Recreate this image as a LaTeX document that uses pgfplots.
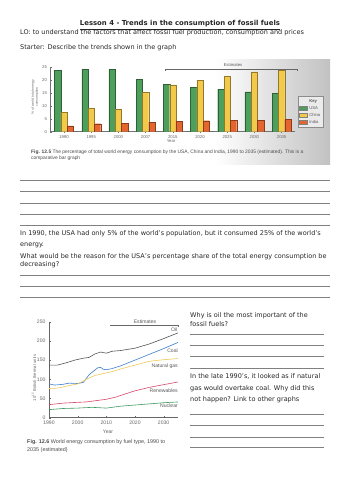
\documentclass[border=0pt]{standalone}
\usepackage{pgfplots}
\pgfplotsset{compat=1.18}
\usepackage{fontspec}
\setmainfont{DejaVu Sans}
\newfontfamily\chartfont{Liberation Sans}
\definecolor{usagreen}{HTML}{4E9E5C}
\definecolor{chinayellow}{HTML}{F3C94A}
\definecolor{indiaorange}{HTML}{E4652E}
\definecolor{oilc}{HTML}{555555}
\definecolor{coalc}{HTML}{3F7FD0}
\definecolor{gasc}{HTML}{EFC85A}
\definecolor{renc}{HTML}{D8486A}
\definecolor{nucc}{HTML}{3E9A62}
\newcommand{\bodyfont}{\fontsize{6.5}{7.5}\selectfont}
\newcommand{\cf}{\chartfont\fontsize{4.2}{4.8}\selectfont}
\newcommand{\lf}{\chartfont\fontsize{5.1}{5.8}\selectfont}
\begin{document}
\begin{tikzpicture}[x=1pt,y=1pt]
\path[use as bounding box, fill=white] (0pt,0pt) rectangle (353pt,500pt);
% header text
\node[anchor=center, inner sep=0, text=black!85] at (180pt,475pt) {\fontsize{6.9}{8}\selectfont\bfseries\underline{Lesson 4 - Trends in the consumption of fossil fuels}};
\node[anchor=west, inner sep=0, text=black!85] at (20pt,467pt) {\bodyfont LO: to understand the factors that affect fossil fuel production, consumption and prices};
\node[anchor=west, inner sep=0, text=black!85] at (20pt,452.7pt) {\bodyfont Starter: Describe the trends shown in the graph};
% photo background 1
\fill[white] (20pt,335pt) rectangle (330pt,440pt);
\shade[left color=white, right color=black!24] (215pt,335pt) rectangle (330pt,440pt);
% bar chart
\begin{axis}[
  at={(50.4pt,368.3pt)}, anchor=south west, scale only axis,
  width=244.8pt, height=64.4pt,
  xmin=-0.5, xmax=8.5, ymin=0, ymax=25,
  axis x line*=bottom, axis y line*=left,
  axis line style={black!55, line width=0.4pt},
  xtick={0,...,8}, xticklabels={1990,1995,2000,2007,2015,2020,2025,2030,2035},
  ytick={0,5,...,25},
  major tick length=1.5pt, tick style={black!55},
  tick label style={font=\cf, text=black!60, /pgf/number format/assume math mode=true},
  xticklabel style={yshift=1pt},
  ybar, bar width=6.3pt,
  legend style={at={(1.011,0.554)}, anchor=north west, font=\cf, text=black!65,
    draw=black!45, fill=black!8, inner sep=1pt, row sep=-1.5pt,
    legend cell align=left},
  legend image code/.code={\draw[#1, draw=black!50] (0cm,-0.06cm) rectangle (0.28cm,0.09cm);},
]
\addlegendimage{empty legend}
\addlegendentry{\textbf{Key}}
\addplot[fill=usagreen, draw=usagreen!60!black, line width=0.2pt, bar shift=-6.3pt] coordinates {(0,23.8) (1,24.3) (2,24.2) (3,20.3) (4,18.3) (5,17.3) (6,16.5) (7,15.5) (8,15.0)};
\addlegendentry{USA}
\addplot[fill=chinayellow, draw=chinayellow!60!black, line width=0.2pt, bar shift=0pt] coordinates {(0,7.5) (1,9.0) (2,8.6) (3,15.4) (4,18.2) (5,20.0) (6,21.6) (7,23.2) (8,24.0)};
\addlegendentry{China}
\addplot[fill=indiaorange, draw=indiaorange!60!black, line width=0.2pt, bar shift=6.3pt] coordinates {(0,2.3) (1,3.1) (2,3.3) (3,3.7) (4,4.0) (5,4.3) (6,4.5) (7,4.5) (8,4.7)};
\addlegendentry{India}
\end{axis}
\node[rotate=90, align=center, inner sep=0, text=black!60, font={\chartfont\fontsize{3.4}{4}\selectfont}] at (35pt,403pt) {\% of world total energy\\consumption};
\node[inner sep=0, text=black!60, font=\cf] at (171pt,358.5pt) {Year};
\draw[black!60, line width=0.4pt] (165pt,429pt) -- (165pt,431pt) -- (297pt,431pt) -- (297pt,429pt);
\node[inner sep=0, text=black!65, font=\cf] at (233pt,434.5pt) {Estimates};
\node[anchor=west, inner sep=0, text=black!70, align=left, font={\chartfont\fontsize{4.9}{6}\selectfont}] at (31pt,345pt) {\textbf{Fig. 12.5} The percentage of total world energy consumption by the USA, China and India, 1990 to 2035 (estimated). This is a\\comparative bar graph};
% answer lines 1
\foreach \yy in {180.7,191.7,203.3,214.3,225.7,275.7,286.7,297.7} {\draw[black!50, line width=0.5pt] (20pt,500pt-\yy pt) -- (330pt,500pt-\yy pt);}
\node[anchor=west, inner sep=0, text=black!85] at (20pt,266pt) {\bodyfont In 1990, the USA had only 5\% of the world's population, but it consumed 25\% of the world's};
\node[anchor=west, inner sep=0, text=black!85] at (20pt,254.3pt) {\bodyfont energy.};
\node[anchor=west, inner sep=0, text=black!85] at (20pt,243.5pt) {\bodyfont What would be the reason for the USA's percentage share of the total energy consumption be};
\node[anchor=west, inner sep=0, text=black!85] at (20pt,235.5pt) {\bodyfont decreasing?};
% line chart
\begin{axis}[
  at={(49pt,82.3pt)}, anchor=south west, scale only axis,
  width=129pt, height=96pt,
  xmin=1990, xmax=2035, ymin=0, ymax=250,
  axis x line*=bottom, axis y line*=left,
  axis line style={black!60, line width=0.4pt},
  xtick={1990,2000,...,2030}, ytick={0,50,...,250},
  major tick length=1.5pt, tick style={black!60},
  tick label style={font=\lf, text=black!60, /pgf/number format/assume math mode=true},
  xticklabel style={/pgf/number format/1000 sep={}},
  clip=false,
]
\addplot[oilc, line width=0.6pt] coordinates {(1990,137) (1993,137) (1996,143) (1999,150) (2002,155) (2004,157) (2006,166) (2008,171) (2010,168) (2012,173) (2015,175) (2020,181) (2025,192) (2030,206) (2035,221)};
\addplot[coalc, line width=0.6pt] coordinates {(1990,88) (1992,85) (1995,87) (1997,90) (2000,89) (2002,92) (2004,112) (2006,124) (2007,130) (2008,131) (2009,126) (2010,125) (2012,128) (2015,135) (2020,150) (2025,165) (2030,180) (2035,196)};
\addplot[gasc, line width=0.6pt] coordinates {(1990,76) (1993,77) (1996,82) (2000,88) (2003,100) (2006,110) (2009,115) (2012,120) (2015,127) (2020,137) (2025,147) (2030,151) (2035,154)};
\addplot[renc, line width=0.6pt] coordinates {(1990,34) (1995,38) (2000,40) (2003,41) (2006,44) (2010,48) (2013,53) (2015,58) (2020,70) (2025,79) (2030,86) (2035,93)};
\addplot[nucc, line width=0.6pt] coordinates {(1990,21) (1995,24) (2000,25) (2005,27) (2010,25) (2015,30) (2020,33) (2025,36) (2030,39) (2035,41)};
\node[anchor=south east, inner sep=0.5pt, text=black!65, font=\lf] at (axis cs:2035,222) {Oil};
\node[anchor=east, inner sep=0, text=black!65, font=\lf] at (axis cs:2035,175) {Coal};
\node[anchor=east, inner sep=0, text=black!65, font=\lf] at (axis cs:2035,135) {Natural gas};
\node[anchor=east, inner sep=0, text=black!65, font=\lf] at (axis cs:2035,70) {Renewables};
\node[anchor=east, inner sep=0, text=black!65, font=\lf] at (axis cs:2035,31) {Nuclear};
\end{axis}
\node[rotate=90, inner sep=0, text=black!60, font={\chartfont\fontsize{4.2}{5}\selectfont}] at (34pt,122pt) {10\textsuperscript{15} British thermal units};
\node[inner sep=0, text=black!60, font=\lf] at (108pt,68.5pt) {Year};
\draw[black!60, line width=0.4pt] (110pt,174pt) -- (110pt,175pt) -- (178pt,175pt) -- (178pt,173pt);
\node[inner sep=0, text=black!65, font=\lf] at (145pt,178.5pt) {Estimates};
\node[anchor=west, inner sep=0, text=black!70, align=left, font={\chartfont\fontsize{5.4}{8}\selectfont}] at (27pt,53.5pt) {\textbf{Fig. 12.6} World energy consumption by fuel type, 1990 to\\2035 (estimated)};
% right column
\node[anchor=west, inner sep=0, text=black!85] at (190pt,184pt) {\bodyfont Why is oil the most important of the};
\node[anchor=west, inner sep=0, text=black!85] at (190pt,176pt) {\bodyfont fossil fuels?};
\node[anchor=west, inner sep=0, text=black!85] at (190pt,123.3pt) {\bodyfont In the late 1990's, it looked as if natural};
\node[anchor=west, inner sep=0, text=black!85] at (190pt,111.7pt) {\bodyfont gas would overtake coal. Why did this};
\node[anchor=west, inner sep=0, text=black!85] at (190pt,100pt) {\bodyfont not happen? Link to other graphs};
\foreach \yy in {334.3,345,356.7,368.3,414,425.3,437,447.7} {\draw[black!50, line width=0.5pt] (190pt,500pt-\yy pt) -- (324pt,500pt-\yy pt);}
\end{tikzpicture}
\end{document}
